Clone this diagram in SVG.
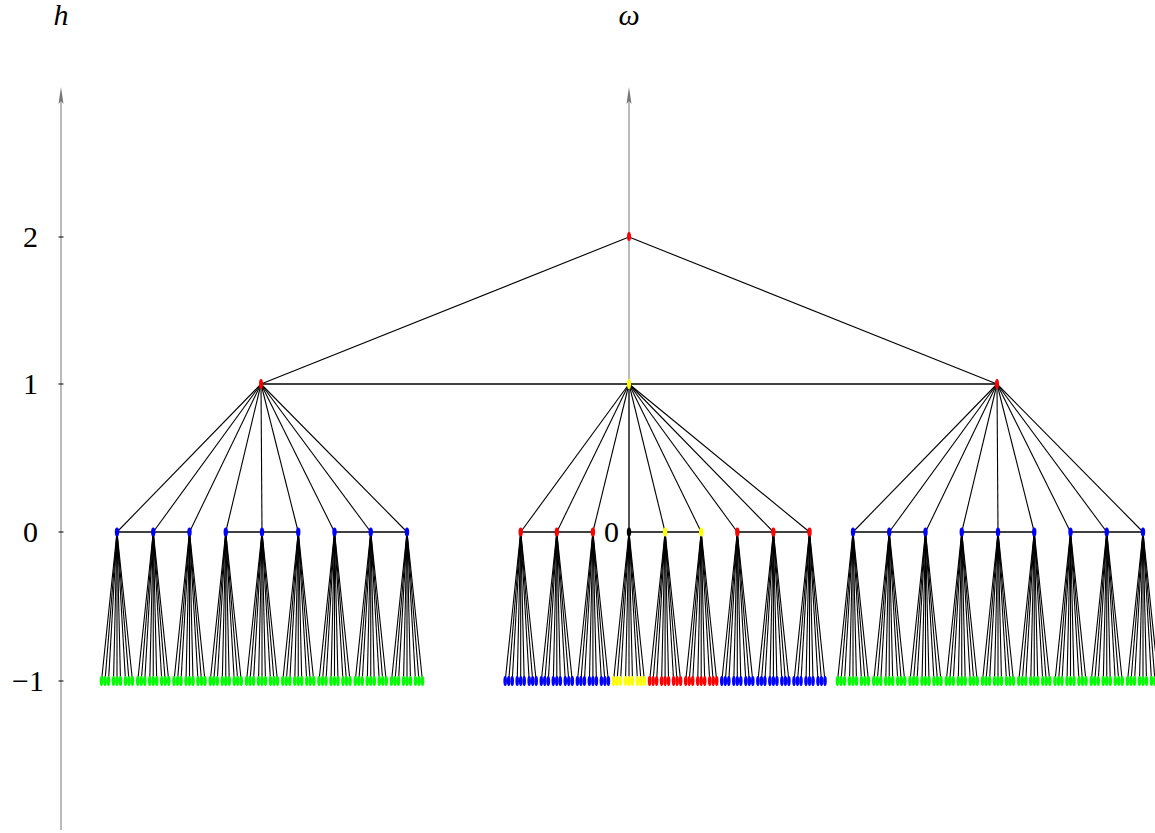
<svg xmlns="http://www.w3.org/2000/svg" xmlns:xlink="http://www.w3.org/1999/xlink" width="1155" height="833" viewBox="0 0 1155 833">
<style>
.ax{stroke:#777;stroke-width:1;fill:none}
.ah{fill:#777;stroke:none}
.e{stroke:#000;stroke-width:1.1;fill:none}
.h{stroke-width:1.4}
.t{font-family:'Liberation Serif','DejaVu Serif',serif;font-size:30px;fill:#000}
.r{fill:#f00}.b{fill:#00f}.g{fill:#0f0}.y{fill:#ff0}.k{fill:#000}
</style>
<defs>
<g id="fanLines" class="e">
<line x1="0" y1="0" x2="-15.5" y2="149"/><line x1="0" y1="0" x2="-12" y2="149"/><line x1="0" y1="0" x2="-8.5" y2="149"/>
<line x1="0" y1="0" x2="-3.5" y2="149"/><line x1="0" y1="0" x2="0" y2="149"/><line x1="0" y1="0" x2="3.5" y2="149"/>
<line x1="0" y1="0" x2="8.5" y2="149"/><line x1="0" y1="0" x2="12" y2="149"/><line x1="0" y1="0" x2="15.5" y2="149"/>
</g>
<g id="leaves">
<ellipse cx="-15.5" cy="149" rx="1.8" ry="5"/><ellipse cx="-12" cy="149" rx="1.8" ry="5"/><ellipse cx="-8.5" cy="149" rx="1.8" ry="5"/>
<ellipse cx="-3.5" cy="149" rx="1.8" ry="5"/><ellipse cx="0" cy="149" rx="1.8" ry="5"/><ellipse cx="3.5" cy="149" rx="1.8" ry="5"/>
<ellipse cx="8.5" cy="149" rx="1.8" ry="5"/><ellipse cx="12" cy="149" rx="1.8" ry="5"/><ellipse cx="15.5" cy="149" rx="1.8" ry="5"/>
</g>
</defs>
<rect width="1155" height="833" fill="#fff"/>
<g id="axes">
<line class="ax" x1="61" y1="95" x2="61" y2="830"/>
<path class="ah" d="M61,87 L63.5,104 L61,101 L58.5,104 Z"/>
<line class="ax" x1="629" y1="95" x2="629" y2="532"/>
<path class="ah" d="M629,87 L631.5,104 L629,101 L626.5,104 Z"/>
<g stroke="#000" stroke-width="1">
<line x1="58.5" y1="237" x2="63.5" y2="237"/><line x1="58.5" y1="384" x2="63.5" y2="384"/>
<line x1="58.5" y1="532" x2="63.5" y2="532"/><line x1="58.5" y1="681" x2="63.5" y2="681"/>
</g>
<text class="t" x="61" y="25" text-anchor="middle" font-style="italic">h</text>
<text class="t" x="629" y="25" text-anchor="middle" font-style="italic">ω</text>
<text class="t" x="38" y="247" text-anchor="end">2</text>
<text class="t" x="38" y="394" text-anchor="end">1</text>
<text class="t" x="38" y="542" text-anchor="end">0</text>
<text class="t" x="44" y="691" text-anchor="end">−1</text>
<text class="t" x="619" y="542" text-anchor="end">0</text>
</g>
<g id="connectors" class="e">
<line x1="629" y1="237" x2="261" y2="384"/><line x1="629" y1="237" x2="997" y2="384"/>
<line class="h" x1="261" y1="384" x2="997" y2="384"/>
<line x1="261" y1="384" x2="117" y2="532"/><line x1="261" y1="384" x2="153.25" y2="532"/><line x1="261" y1="384" x2="189.5" y2="532"/>
<line x1="261" y1="384" x2="225.75" y2="532"/><line x1="261" y1="384" x2="262" y2="532"/><line x1="261" y1="384" x2="298.25" y2="532"/>
<line x1="261" y1="384" x2="334.5" y2="532"/><line x1="261" y1="384" x2="370.75" y2="532"/><line x1="261" y1="384" x2="407" y2="532"/>
<line x1="629" y1="384" x2="520.7" y2="532"/><line x1="629" y1="384" x2="556.8" y2="532"/><line x1="629" y1="384" x2="592.9" y2="532"/>
<line x1="629" y1="384" x2="629" y2="532"/><line x1="629" y1="384" x2="665.1" y2="532"/><line x1="629" y1="384" x2="701.2" y2="532"/>
<line x1="629" y1="384" x2="737.3" y2="532"/><line x1="629" y1="384" x2="773.4" y2="532"/><line x1="629" y1="384" x2="809.5" y2="532"/>
<line x1="997" y1="384" x2="853" y2="532"/><line x1="997" y1="384" x2="889.25" y2="532"/><line x1="997" y1="384" x2="925.5" y2="532"/>
<line x1="997" y1="384" x2="961.75" y2="532"/><line x1="997" y1="384" x2="998" y2="532"/><line x1="997" y1="384" x2="1034.25" y2="532"/>
<line x1="997" y1="384" x2="1070.5" y2="532"/><line x1="997" y1="384" x2="1106.75" y2="532"/><line x1="997" y1="384" x2="1143" y2="532"/>
<g class="h">
<line x1="117" y1="532" x2="189.5" y2="532"/><line x1="225.75" y1="532" x2="298.25" y2="532"/><line x1="334.5" y1="532" x2="407" y2="532"/>
<line x1="520.7" y1="532" x2="592.9" y2="532"/><line x1="629" y1="532" x2="701.2" y2="532"/><line x1="737.3" y1="532" x2="809.5" y2="532"/>
<line x1="853" y1="532" x2="925.5" y2="532"/><line x1="961.75" y1="532" x2="1034.25" y2="532"/><line x1="1070.5" y1="532" x2="1143" y2="532"/>
</g>
<use href="#fanLines" x="117" y="532"/><use href="#fanLines" x="153.25" y="532"/><use href="#fanLines" x="189.5" y="532"/>
<use href="#fanLines" x="225.75" y="532"/><use href="#fanLines" x="262" y="532"/><use href="#fanLines" x="298.25" y="532"/>
<use href="#fanLines" x="334.5" y="532"/><use href="#fanLines" x="370.75" y="532"/><use href="#fanLines" x="407" y="532"/>
<use href="#fanLines" x="520.7" y="532"/><use href="#fanLines" x="556.8" y="532"/><use href="#fanLines" x="592.9" y="532"/>
<use href="#fanLines" x="629" y="532"/><use href="#fanLines" x="665.1" y="532"/><use href="#fanLines" x="701.2" y="532"/>
<use href="#fanLines" x="737.3" y="532"/><use href="#fanLines" x="773.4" y="532"/><use href="#fanLines" x="809.5" y="532"/>
<use href="#fanLines" x="853" y="532"/><use href="#fanLines" x="889.25" y="532"/><use href="#fanLines" x="925.5" y="532"/>
<use href="#fanLines" x="961.75" y="532"/><use href="#fanLines" x="998" y="532"/><use href="#fanLines" x="1034.25" y="532"/>
<use href="#fanLines" x="1070.5" y="532"/><use href="#fanLines" x="1106.75" y="532"/><use href="#fanLines" x="1143" y="532"/>
</g>
<g id="n-root"><ellipse class="r" cx="629" cy="236.5" rx="2" ry="4.5"/></g>
<g id="n-1L"><ellipse class="r" cx="261" cy="384" rx="2" ry="5"/></g>
<g id="n-1C"><ellipse class="y" cx="629" cy="384" rx="2" ry="5"/></g>
<g id="n-1R"><ellipse class="r" cx="997" cy="384" rx="2" ry="5"/></g>
<g id="n-0L1"><ellipse class="b" cx="117" cy="532" rx="2.2" ry="4.5"/></g>
<g id="n-0L2"><ellipse class="b" cx="153.25" cy="532" rx="2.2" ry="4.5"/></g>
<g id="n-0L3"><ellipse class="b" cx="189.5" cy="532" rx="2.2" ry="4.5"/></g>
<g id="n-0L4"><ellipse class="b" cx="225.75" cy="532" rx="2.2" ry="4.5"/></g>
<g id="n-0L5"><ellipse class="b" cx="262" cy="532" rx="2.2" ry="4.5"/></g>
<g id="n-0L6"><ellipse class="b" cx="298.25" cy="532" rx="2.2" ry="4.5"/></g>
<g id="n-0L7"><ellipse class="b" cx="334.5" cy="532" rx="2.2" ry="4.5"/></g>
<g id="n-0L8"><ellipse class="b" cx="370.75" cy="532" rx="2.2" ry="4.5"/></g>
<g id="n-0L9"><ellipse class="b" cx="407" cy="532" rx="2.2" ry="4.5"/></g>
<g id="n-0C1"><ellipse class="r" cx="520.7" cy="532" rx="2.2" ry="4.5"/></g>
<g id="n-0C2"><ellipse class="r" cx="556.8" cy="532" rx="2.2" ry="4.5"/></g>
<g id="n-0C3"><ellipse class="r" cx="592.9" cy="532" rx="2.2" ry="4.5"/></g>
<g id="n-0C4"><ellipse class="k" cx="629" cy="532" rx="2.2" ry="4.5"/></g>
<g id="n-0C5"><ellipse class="y" cx="665.1" cy="532" rx="2.2" ry="4.5"/></g>
<g id="n-0C6"><ellipse class="y" cx="701.2" cy="532" rx="2.2" ry="4.5"/></g>
<g id="n-0C7"><ellipse class="r" cx="737.3" cy="532" rx="2.2" ry="4.5"/></g>
<g id="n-0C8"><ellipse class="r" cx="773.4" cy="532" rx="2.2" ry="4.5"/></g>
<g id="n-0C9"><ellipse class="r" cx="809.5" cy="532" rx="2.2" ry="4.5"/></g>
<g id="n-0R1"><ellipse class="b" cx="853" cy="532" rx="2.2" ry="4.5"/></g>
<g id="n-0R2"><ellipse class="b" cx="889.25" cy="532" rx="2.2" ry="4.5"/></g>
<g id="n-0R3"><ellipse class="b" cx="925.5" cy="532" rx="2.2" ry="4.5"/></g>
<g id="n-0R4"><ellipse class="b" cx="961.75" cy="532" rx="2.2" ry="4.5"/></g>
<g id="n-0R5"><ellipse class="b" cx="998" cy="532" rx="2.2" ry="4.5"/></g>
<g id="n-0R6"><ellipse class="b" cx="1034.25" cy="532" rx="2.2" ry="4.5"/></g>
<g id="n-0R7"><ellipse class="b" cx="1070.5" cy="532" rx="2.2" ry="4.5"/></g>
<g id="n-0R8"><ellipse class="b" cx="1106.75" cy="532" rx="2.2" ry="4.5"/></g>
<g id="n-0R9"><ellipse class="b" cx="1143" cy="532" rx="2.2" ry="4.5"/></g>
<g id="leaves-L1"><use href="#leaves" x="117" y="532" fill="#0f0"/></g>
<g id="leaves-L2"><use href="#leaves" x="153.25" y="532" fill="#0f0"/></g>
<g id="leaves-L3"><use href="#leaves" x="189.5" y="532" fill="#0f0"/></g>
<g id="leaves-L4"><use href="#leaves" x="225.75" y="532" fill="#0f0"/></g>
<g id="leaves-L5"><use href="#leaves" x="262" y="532" fill="#0f0"/></g>
<g id="leaves-L6"><use href="#leaves" x="298.25" y="532" fill="#0f0"/></g>
<g id="leaves-L7"><use href="#leaves" x="334.5" y="532" fill="#0f0"/></g>
<g id="leaves-L8"><use href="#leaves" x="370.75" y="532" fill="#0f0"/></g>
<g id="leaves-L9"><use href="#leaves" x="407" y="532" fill="#0f0"/></g>
<g id="leaves-C1"><use href="#leaves" x="520.7" y="532" fill="#00f"/></g>
<g id="leaves-C2"><use href="#leaves" x="556.8" y="532" fill="#00f"/></g>
<g id="leaves-C3"><use href="#leaves" x="592.9" y="532" fill="#00f"/></g>
<g id="leaves-C4"><use href="#leaves" x="629" y="532" fill="#ff0"/></g>
<g id="leaves-C5"><use href="#leaves" x="665.1" y="532" fill="#f00"/></g>
<g id="leaves-C6"><use href="#leaves" x="701.2" y="532" fill="#f00"/></g>
<g id="leaves-C7"><use href="#leaves" x="737.3" y="532" fill="#00f"/></g>
<g id="leaves-C8"><use href="#leaves" x="773.4" y="532" fill="#00f"/></g>
<g id="leaves-C9"><use href="#leaves" x="809.5" y="532" fill="#00f"/></g>
<g id="leaves-R1"><use href="#leaves" x="853" y="532" fill="#0f0"/></g>
<g id="leaves-R2"><use href="#leaves" x="889.25" y="532" fill="#0f0"/></g>
<g id="leaves-R3"><use href="#leaves" x="925.5" y="532" fill="#0f0"/></g>
<g id="leaves-R4"><use href="#leaves" x="961.75" y="532" fill="#0f0"/></g>
<g id="leaves-R5"><use href="#leaves" x="998" y="532" fill="#0f0"/></g>
<g id="leaves-R6"><use href="#leaves" x="1034.25" y="532" fill="#0f0"/></g>
<g id="leaves-R7"><use href="#leaves" x="1070.5" y="532" fill="#0f0"/></g>
<g id="leaves-R8"><use href="#leaves" x="1106.75" y="532" fill="#0f0"/></g>
<g id="leaves-R9"><use href="#leaves" x="1143" y="532" fill="#0f0"/></g>
</svg>
